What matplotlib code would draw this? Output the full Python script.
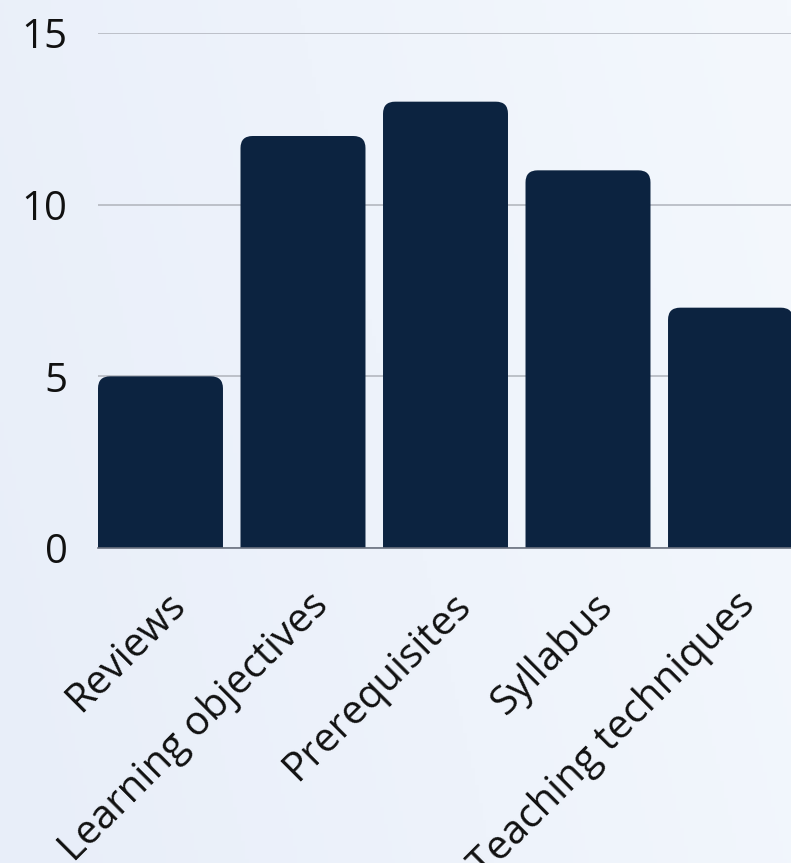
import numpy as np
import matplotlib
matplotlib.use("Agg")
import matplotlib.pyplot as plt
import matplotlib.transforms as mtransforms
from matplotlib.patches import FancyBboxPatch
from matplotlib.colors import LinearSegmentedColormap

categories = ["Reviews", "Learning objectives", "Prerequisites", "Syllabus", "Teaching techniques"]
counts = [5, 12, 13, 11, 7]
yticks = [0, 5, 10, 15]

bar_color = "#0c2340"
plt.rcParams['font.family'] = ['Open Sans', 'DejaVu Sans']

fig = plt.figure(figsize=(7.91, 8.63), dpi=100)

# soft diagonal background gradient
bg = fig.add_axes([0, 0, 1, 1], zorder=-10)
gx, gy = np.meshgrid(np.linspace(0, 1, 200), np.linspace(0, 1, 200))
cmap = LinearSegmentedColormap.from_list("bg", ["#e8eef9", "#f4f8fd"])
bg.imshow(gx * 0.8 + (1 - gy) * 0.2, cmap=cmap, aspect="auto", extent=[0, 1, 0, 1], origin="upper")
bg.axis("off")

ax = fig.add_axes([98 / 791, 315 / 863, 695 / 791, 515 / 863])
ax.patch.set_alpha(0)

width = 0.877
x = np.arange(len(categories))
bars = ax.bar(x, counts, width=width, color=bar_color)

# swap plain bars for ones with rounded tops
rx = 0.085
ry = 0.35
for b in bars:
    b.set_visible(False)
    p = FancyBboxPatch((b.get_x() + rx, -1), b.get_width() - 2 * rx, b.get_height() + 1 - ry,
                       boxstyle="round,pad=%f" % rx, mutation_aspect=ry / rx,
                       facecolor=bar_color, edgecolor="none", zorder=3)
    ax.add_patch(p)

ax.set_xlim(-width / 2, len(categories) - 1 + width / 2)
ax.set_ylim(0, 15)
ax.set_yticks(yticks)
ax.yaxis.grid(True, color="#b4b8c0", linewidth=1.2)
ax.set_axisbelow(True)
for s in ["left", "right", "top"]:
    ax.spines[s].set_visible(False)
ax.spines["bottom"].set_color("#6b7280")
ax.spines["bottom"].set_linewidth(1.2)
ax.spines["bottom"].set_zorder(4)

ax.tick_params(axis="y", length=0, pad=22, labelsize=29, labelcolor="#111111")
ax.tick_params(axis="x", length=0, pad=37)
ax.set_xticks(x)
ax.set_xticklabels(categories, rotation=45, ha="right", va="center", rotation_mode="anchor",
                   fontsize=29, color="#111111")
shift = mtransforms.ScaledTranslation(19 / 100, 0, fig.dpi_scale_trans)
for lab in ax.get_xticklabels():
    lab.set_transform(lab.get_transform() + shift)

fig.savefig("out.png", dpi=100)
